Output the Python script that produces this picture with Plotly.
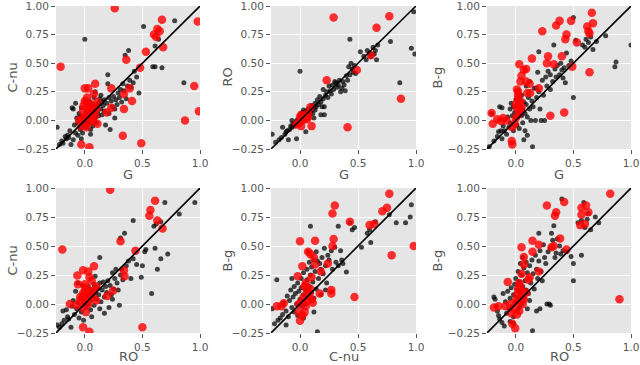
import plotly.graph_objects as go

# (x, y) pairs; black = other points, red = highlighted
p1_black = [
    [-0.24, -0.06], [-0.22, -0.21], [-0.20, -0.18], [-0.19, -0.20], [-0.17, -0.14], [-0.16, -0.16],
    [-0.15, -0.13], [-0.14, -0.15], [-0.12, -0.21], [-0.13, -0.09], [-0.11, 0.11], [-0.10, 0.10],
    [-0.10, -0.17], [-0.09, -0.04], [-0.08, -0.11], [-0.07, 0.02], [-0.06, -0.02], [-0.06, -0.13],
    [-0.05, 0.06], [-0.04, -0.08], [-0.04, 0.03], [-0.03, 0.11], [-0.02, -0.11], [-0.02, -0.04],
    [-0.01, 0.04], [0.00, 0.71], [0.00, -0.01], [0.01, 0.08], [0.01, -0.06], [0.02, 0.02],
    [0.02, 0.13], [0.03, -0.03], [0.03, 0.06], [0.04, 0.17], [0.04, 0.00], [0.05, 0.09],
    [0.05, -0.08], [0.06, 0.04], [0.06, 0.14], [0.07, 0.07], [0.07, -0.05], [0.08, 0.11],
    [0.08, 0.20], [0.09, 0.02], [0.10, 0.12], [0.10, -0.02], [0.11, 0.07], [0.12, 0.15],
    [0.12, 0.04], [0.13, 0.19], [0.14, 0.10], [0.15, 0.05], [0.15, 0.16], [0.16, 0.13],
    [0.17, 0.18], [0.17, 0.08], [0.18, -0.04], [0.19, 0.15], [0.20, 0.40], [0.20, 0.32],
    [0.21, 0.20], [0.21, 0.06], [0.22, -0.08], [0.23, 0.17], [0.24, 0.12], [0.25, 0.21],
    [0.26, 0.02], [0.27, 0.18], [0.28, 0.14], [0.29, 0.24], [0.30, 0.20], [0.31, 0.27],
    [0.32, 0.16], [0.33, 0.32], [0.34, 0.26], [0.35, 0.57], [0.36, 0.19], [0.37, 0.30],
    [0.38, 0.61], [0.39, 0.35], [0.40, 0.29], [0.42, 0.33], [0.43, 0.43], [0.45, 0.38],
    [0.47, 0.24], [0.51, 0.82], [0.59, 0.47], [0.61, 0.47], [0.61, 0.65], [0.64, 0.71],
    [0.67, 0.46], [0.78, 0.87], [0.86, 0.33], [-0.08, 0.15], [0.00, 0.17], [0.09, 0.25],
    [0.26, 0.10], [0.14, 0.22], [-0.03, -0.16], [0.05, -0.12],
]
p1_red = [
    [0.26, 0.98], [0.67, 0.88], [0.98, 0.865], [0.63, 0.80], [0.65, 0.78], [0.60, 0.75],
    [0.62, 0.73], [0.68, 0.64], [0.53, 0.60], [0.36, 0.53], [0.48, 0.46], [-0.21, 0.47],
    [0.09, 0.32], [0.00, 0.28], [0.03, 0.28], [0.08, 0.23], [0.23, 0.28], [0.39, 0.28],
    [0.34, 0.23], [0.41, 0.17], [0.95, 0.30], [0.99, 0.08], [0.87, 0.00], [0.34, 0.10],
    [0.23, 0.11], [0.19, 0.07], [0.33, -0.135], [0.49, -0.20], [-0.03, -0.21], [0.04, -0.235],
    [0.00, 0.17], [0.02, 0.11], [0.04, 0.06], [-0.02, 0.02], [-0.05, 0.00], [0.09, 0.04],
    [0.11, -0.03], [0.015, -0.06], [-0.015, 0.08], [0.06, 0.14], [0.07, -0.005], [0.11, 0.16],
    [0.03, 0.15], [0.01, 0.03], [0.05, 0.10], [-0.01, 0.13], [0.03, -0.02], [0.08, 0.08],
    [0.02, 0.20], [0.06, 0.02], [-0.03, -0.05], [0.10, 0.10],
]

p2_black = [
    [-0.24, -0.12], [-0.21, -0.19], [-0.18, -0.17], [-0.16, -0.15], [-0.15, -0.06], [-0.13, -0.12],
    [-0.12, -0.10], [-0.11, -0.09], [-0.10, -0.17], [-0.09, -0.08], [-0.08, -0.05], [-0.07, -0.06],
    [-0.06, -0.03], [-0.05, -0.05], [-0.04, -0.02], [-0.03, 0.00], [-0.02, -0.03], [-0.01, 0.01],
    [0.00, 0.43], [0.00, 0.02], [0.01, 0.05], [0.01, -0.01], [0.02, 0.03], [0.02, 0.07],
    [0.03, 0.02], [0.03, 0.09], [0.04, 0.05], [0.04, 0.00], [0.05, 0.04], [0.05, 0.08],
    [0.06, 0.06], [0.06, 0.02], [0.07, 0.05], [0.07, 0.10], [0.08, 0.04], [0.08, 0.08],
    [0.09, 0.07], [0.10, 0.13], [0.10, 0.09], [0.11, 0.06], [0.12, 0.11], [0.13, 0.15],
    [0.13, 0.09], [0.14, 0.12], [0.15, 0.18], [0.16, 0.14], [0.17, 0.21], [0.18, 0.16],
    [0.19, 0.12], [0.20, 0.27], [0.20, 0.19], [0.21, 0.05], [0.22, 0.22], [0.23, 0.25],
    [0.24, 0.20], [0.25, 0.30], [0.26, 0.26], [0.27, 0.23], [0.28, 0.31], [0.29, 0.27],
    [0.30, 0.34], [0.31, 0.33], [0.32, 0.29], [0.33, 0.31], [0.34, 0.35], [0.35, 0.25],
    [0.36, 0.28], [0.37, 0.34], [0.38, 0.31], [0.39, 0.26], [0.40, 0.39], [0.41, 0.35],
    [0.42, 0.47], [0.43, 0.71], [0.43, 0.40], [0.44, 0.50], [0.45, 0.45], [0.46, 0.42],
    [0.47, 0.48], [0.48, 0.41], [0.52, 0.60], [0.55, 0.56], [0.57, 0.53], [0.58, 0.61],
    [0.60, 0.59], [0.61, 0.56], [0.63, 0.64], [0.64, 0.58], [0.65, 0.61], [0.66, 0.53],
    [0.67, 0.66], [0.78, 0.69], [0.86, 0.33], [0.96, 0.63], [0.98, 0.95], [0.99, 0.58],
    [0.18, 0.05], [0.05, -0.10], [-0.03, -0.16], [0.21, 0.12], [0.12, 0.02], [-0.07, 0.00],
]
p2_red = [
    [0.29, 0.90], [0.77, 0.91], [0.66, 0.81], [0.61, 0.57], [0.49, 0.44], [0.23, 0.35],
    [0.87, 0.19], [0.41, -0.06], [0.10, -0.05], [0.09, 0.115], [0.01, 0.05], [0.03, 0.01],
    [0.06, 0.01], [-0.01, -0.02], [0.04, 0.04], [0.01, -0.05], [-0.03, -0.035], [0.07, 0.065],
    [0.00, 0.03], [0.05, 0.02], [0.02, 0.00], [0.07, 0.03],
]

p3_black = [
    [-0.23, -0.23], [-0.21, 0.06], [-0.19, -0.18], [-0.16, -0.14], [-0.15, -0.10], [-0.14, 0.12],
    [-0.12, 0.11], [-0.12, -0.16], [-0.11, -0.05], [-0.10, -0.09], [-0.09, 0.01], [-0.08, -0.12],
    [-0.07, 0.03], [-0.06, -0.06], [-0.05, 0.10], [-0.05, -0.02], [-0.04, 0.15], [-0.03, 0.04],
    [-0.02, -0.09], [-0.02, 0.12], [-0.01, 0.07], [0.00, 0.02], [0.00, 0.18], [0.01, -0.04],
    [0.02, 0.09], [0.03, 0.20], [0.03, -0.07], [0.04, 0.13], [0.05, 0.04], [0.05, 0.22],
    [0.06, -0.02], [0.06, 0.10], [0.07, 0.16], [0.08, 0.06], [0.08, -0.09], [0.09, 0.14],
    [0.09, 0.30], [0.10, 0.03], [0.10, -0.13], [0.11, 0.20], [0.12, 0.10], [0.12, 0.34],
    [0.13, 0.00], [0.14, 0.17], [0.145, -0.23], [0.15, 0.12], [0.16, 0.28], [0.17, 0.00],
    [0.18, 0.20], [0.19, 0.42], [0.20, 0.60], [0.20, 0.25], [0.21, 0.10], [0.22, 0.00],
    [0.23, 0.35], [0.24, 0.22], [0.25, 0.00], [0.26, 0.38], [0.27, 0.30], [0.28, 0.43],
    [0.30, 0.27], [0.30, 0.40], [0.32, 0.34], [0.33, 0.66], [0.34, 0.45], [0.35, 0.38],
    [0.36, 0.48], [0.38, 0.40], [0.39, 0.50], [0.40, 0.44], [0.41, 0.37], [0.42, 0.46],
    [0.43, 0.33], [0.44, 0.59], [0.46, 0.48], [0.48, 0.52], [0.50, 0.90], [0.50, 0.20],
    [0.52, 0.70], [0.58, 0.66], [0.60, 0.64], [0.61, 0.71], [0.63, 0.68], [0.65, 0.73],
    [0.67, 0.62], [0.70, 0.69], [0.78, 0.74], [0.86, 0.47], [0.87, 0.51], [1.00, 0.66],
    [-0.13, -0.09], [0.07, -0.17], [0.02, 0.26], [0.18, 0.28],
]
p3_red = [
    [0.66, 0.94], [0.67, 0.85], [0.62, 0.82], [0.63, 0.78], [0.64, 0.76], [0.38, 0.87],
    [0.35, 0.83], [0.48, 0.87], [0.23, 0.78], [0.44, 0.75], [0.43, 0.71], [0.53, 0.68],
    [0.40, 0.56], [0.28, 0.56], [0.14, 0.54], [0.33, 0.49], [0.27, 0.50], [0.49, 0.47],
    [0.03, 0.49], [0.07, 0.44], [0.09, 0.45], [0.05, 0.39], [0.09, 0.34], [0.04, 0.34],
    [0.12, 0.32], [0.20, 0.28], [0.10, 0.24], [0.125, 0.24], [0.64, 0.42], [0.30, 0.04],
    [0.42, 0.07], [-0.21, 0.065], [-0.20, -0.03], [-0.16, 0.01], [-0.13, -0.005], [-0.11, 0.02],
    [-0.08, 0.00], [-0.03, -0.06], [-0.035, -0.18], [-0.03, -0.21], [0.01, 0.27], [0.02, 0.25],
    [0.02, 0.19], [0.03, 0.16], [0.00, 0.14], [0.01, 0.11], [0.04, 0.08], [0.02, 0.05],
    [0.00, 0.02], [0.05, 0.12], [0.02, 0.22], [0.035, 0.10], [-0.01, -0.03], [0.04, 0.17],
]

p4_black = [
    [-0.24, -0.18], [-0.22, -0.20], [-0.20, -0.17], [-0.19, -0.06], [-0.18, -0.14], [-0.16, -0.05],
    [-0.15, -0.11], [-0.14, -0.13], [-0.12, -0.20], [-0.11, -0.02], [-0.10, 0.03], [-0.09, -0.09],
    [-0.08, 0.11], [-0.07, -0.04], [-0.06, 0.01], [-0.05, -0.12], [-0.04, 0.05], [-0.03, -0.07],
    [-0.02, 0.08], [-0.01, 0.00], [-0.01, -0.14], [0.00, 0.04], [0.01, 0.12], [0.01, -0.03],
    [0.02, 0.06], [0.03, 0.00], [0.03, 0.15], [0.04, 0.09], [0.05, -0.05], [0.05, 0.03],
    [0.06, 0.12], [0.07, 0.07], [0.08, -0.01], [0.08, 0.17], [0.09, 0.10], [0.10, 0.04],
    [0.11, 0.14], [0.12, 0.08], [0.13, 0.40], [0.13, 0.18], [0.14, 0.02], [0.15, 0.12],
    [0.16, 0.19], [0.17, 0.06], [0.18, 0.15], [0.19, 0.10], [0.20, 0.20], [0.21, -0.03],
    [0.22, 0.16], [0.23, 0.08], [0.24, 0.27], [0.25, 0.13], [0.26, 0.22], [0.27, 0.30],
    [0.28, 0.18], [0.29, 0.12], [0.30, -0.01], [0.31, 0.57], [0.31, 0.25], [0.32, 0.30],
    [0.33, 0.21], [0.345, 0.61], [0.36, 0.33], [0.38, 0.37], [0.40, 0.22], [0.42, 0.72],
    [0.42, 0.39], [0.45, 0.34], [0.49, 0.23], [0.50, 0.33], [0.52, 0.45], [0.53, 0.47],
    [0.58, 0.09], [0.60, 0.67], [0.61, 0.48], [0.62, 0.69], [0.63, 0.30], [0.66, 0.71],
    [0.66, 0.39], [0.695, 0.875], [0.72, 0.43], [0.82, 0.775], [0.955, 0.875], [0.17, -0.08],
    [0.13, -0.04], [-0.06, 0.18], [0.09, 0.24], [0.06, -0.11], [-0.02, 0.16], [0.24, 0.04],
]
p4_red = [
    [0.22, 0.985], [0.61, 0.89], [0.57, 0.81], [0.56, 0.76], [0.63, 0.72], [0.675, 0.65],
    [0.31, 0.54], [0.44, 0.46], [-0.195, 0.47], [0.08, 0.325], [-0.015, 0.29], [0.03, 0.28],
    [-0.065, 0.245], [0.04, 0.23], [0.34, 0.29], [0.345, 0.24], [-0.06, 0.17], [0.00, 0.17],
    [0.015, 0.14], [0.245, 0.115], [0.195, 0.07], [-0.13, 0.00], [-0.07, -0.01], [-0.04, 0.03],
    [-0.015, 0.09], [0.02, 0.07], [0.05, 0.10], [0.07, 0.06], [0.10, 0.03], [0.03, 0.04],
    [-0.02, -0.03], [0.01, -0.07], [-0.015, -0.20], [0.04, -0.24], [0.50, -0.20], [0.10, 0.15],
    [0.06, 0.20], [0.00, 0.12], [0.03, 0.00], [-0.04, 0.06], [0.08, 0.12], [-0.01, 0.05],
]

p5_black = [
    [-0.24, -0.04], [-0.22, -0.17], [-0.20, 0.21], [-0.19, -0.14], [-0.17, -0.12], [-0.15, -0.09],
    [-0.14, 0.01], [-0.12, -0.06], [-0.11, 0.07], [-0.10, -0.11], [-0.09, 0.03], [-0.08, 0.12],
    [-0.07, -0.03], [-0.06, 0.06], [-0.05, 0.15], [-0.05, -0.07], [-0.04, 0.09], [-0.03, 0.00],
    [-0.02, 0.18], [-0.02, -0.10], [-0.01, 0.11], [0.00, 0.04], [0.01, 0.22], [0.01, 0.14],
    [0.02, -0.02], [0.03, 0.08], [0.03, 0.27], [0.04, 0.17], [0.05, 0.00], [0.05, 0.12],
    [0.06, 0.30], [0.06, 0.21], [0.07, 0.06], [0.08, 0.15], [0.08, 0.36], [0.09, 0.67],
    [0.09, 0.25], [0.10, 0.10], [0.10, 0.32], [0.11, 0.19], [0.12, 0.38], [0.12, -0.07],
    [0.13, 0.28], [0.14, 0.45], [0.14, 0.13], [0.15, 0.37], [0.15, -0.24], [0.16, 0.22],
    [0.17, 0.35], [0.18, 0.30], [0.19, 0.40], [0.20, 0.26], [0.21, 0.48], [0.22, 0.33],
    [0.23, 0.18], [0.24, 0.42], [0.25, 0.38], [0.27, 0.46], [0.28, 0.30], [0.30, 0.49],
    [0.31, 0.36], [0.33, 0.67], [0.33, 0.33], [0.35, 0.46], [0.36, 0.38], [0.37, 0.35],
    [0.40, 0.275], [0.43, 0.70], [0.45, 0.64], [0.47, 0.66], [0.53, 0.49], [0.58, 0.61],
    [0.60, 0.64], [0.61, 0.53], [0.65, 0.71], [0.77, 0.77], [0.83, 0.70], [0.91, 0.70],
    [0.95, 0.75], [0.96, 0.855], [-0.12, -0.18], [0.03, -0.12], [0.18, 0.08], [0.12, 0.05],
    [0.22, 0.12], [-0.07, 0.22], [0.07, 0.45],
]
p5_red = [
    [0.77, 0.95], [0.75, 0.83], [0.71, 0.80], [0.30, 0.85], [0.28, 0.78], [0.43, 0.71],
    [0.64, 0.69], [0.60, 0.68], [0.00, 0.54], [0.13, 0.545], [0.29, 0.56], [0.28, 0.50],
    [0.98, 0.50], [0.79, 0.42], [0.07, 0.45], [0.09, 0.43], [0.12, 0.40], [0.02, 0.325],
    [-0.02, 0.24], [0.13, 0.34], [0.24, 0.35], [0.18, 0.28], [0.10, 0.23], [0.27, 0.12],
    [0.27, 0.09], [0.47, 0.06], [0.17, 0.09], [-0.20, -0.02], [-0.14, 0.006], [-0.16, -0.02],
    [0.00, -0.145], [0.04, -0.07], [0.02, -0.10], [-0.01, -0.07], [0.05, -0.02], [0.07, 0.03],
    [0.03, 0.06], [0.06, 0.12], [0.10, 0.04], [0.11, 0.01], [0.04, 0.15], [0.08, 0.09],
    [0.02, 0.02], [0.05, 0.18], [0.09, 0.13], [-0.01, 0.00],
]

p6_black = [
    [-0.19, 0.06], [-0.18, 0.04], [-0.17, -0.02], [-0.16, -0.06], [-0.15, -0.10], [-0.14, -0.13],
    [-0.12, -0.16], [-0.11, 0.09], [-0.10, -0.19], [-0.09, 0.02], [-0.08, -0.08], [-0.07, 0.11],
    [-0.06, -0.04], [-0.05, 0.05], [-0.05, -0.15], [-0.04, 0.14], [-0.03, -0.02], [-0.02, 0.08],
    [-0.02, -0.11], [-0.01, 0.17], [0.00, 0.02], [0.00, 0.22], [0.01, 0.12], [0.01, -0.06],
    [0.02, 0.28], [0.02, 0.06], [0.03, 0.19], [0.03, -0.03], [0.04, 0.35], [0.04, 0.10],
    [0.05, 0.25], [0.05, 0.00], [0.06, 0.15], [0.06, 0.40], [0.07, 0.31], [0.07, 0.05],
    [0.08, 0.20], [0.09, 0.12], [0.09, 0.36], [0.10, 0.27], [0.10, -0.04], [0.11, 0.09],
    [0.12, 0.33], [0.13, 0.18], [0.14, 0.38], [0.145, -0.23], [0.15, 0.26], [0.16, 0.13],
    [0.17, 0.42], [0.18, 0.30], [0.19, 0.22], [0.20, 0.61], [0.20, 0.37], [0.21, 0.46],
    [0.22, 0.28], [0.24, 0.51], [0.25, 0.40], [0.26, 0.35], [0.27, 0.00], [0.28, 0.45],
    [0.29, 0.00], [0.30, 0.48], [0.30, -0.01], [0.31, 0.61], [0.32, 0.55], [0.33, 0.675],
    [0.34, 0.40], [0.35, 0.44], [0.36, 0.56], [0.38, 0.50], [0.39, 0.43], [0.40, 0.905],
    [0.41, 0.46], [0.44, 0.45], [0.48, 0.41], [0.50, 0.35], [0.50, 0.20], [0.54, 0.70],
    [0.57, 0.42], [0.57, 0.72], [0.59, 0.875], [0.60, 0.66], [0.62, 0.73], [0.63, 0.78],
    [0.65, 0.64], [0.69, 0.75], [0.72, 0.70], [0.21, -0.04], [0.18, -0.06], [-0.02, -0.17],
    [0.12, 0.03], [0.23, 0.20],
]
p6_red = [
    [0.82, 0.95], [0.42, 0.88], [0.27, 0.85], [0.90, 0.04], [0.35, 0.79], [0.34, 0.76],
    [0.57, 0.83], [0.61, 0.85], [0.63, 0.79], [0.57, 0.77], [0.56, 0.68], [0.60, 0.69],
    [0.385, 0.565], [0.33, 0.50], [0.31, 0.49], [0.20, 0.51], [0.44, 0.47], [0.145, 0.545],
    [0.145, 0.45], [0.05, 0.49], [0.07, 0.405], [0.07, 0.34], [0.05, 0.26], [0.20, 0.28],
    [0.12, 0.23], [0.11, 0.21], [-0.07, 0.19], [-0.19, -0.03], [-0.15, -0.02], [-0.09, -0.02],
    [-0.05, 0.00], [-0.02, -0.04], [-0.04, -0.08], [-0.03, -0.17], [-0.005, -0.21], [0.09, 0.10],
    [0.07, 0.04], [0.01, 0.08], [0.02, 0.13], [0.03, 0.18], [0.00, 0.03], [0.04, 0.06],
    [0.02, 0.01], [0.05, 0.11], [0.03, -0.06], [0.01, -0.09], [0.04, 0.15], [0.06, 0.00],
]

panels = [
    (p1_black, p1_red, "G", "C-nu"),
    (p2_black, p2_red, "G", "RO"),
    (p3_black, p3_red, "G", "B-g"),
    (p4_black, p4_red, "RO", "C-nu"),
    (p5_black, p5_red, "C-nu", "B-g"),
    (p6_black, p6_red, "RO", "B-g"),
]

diag = [-0.25, 1.0]
xticks = [0.0, 0.5, 1.0]
xtick_text = ["0.0", "0.5", "1.0"]
yticks = [-0.25, 0.0, 0.25, 0.5, 0.75, 1.0]
ytick_text = ["\u22120.25", "0.00", "0.25", "0.50", "0.75", "1.00"]

W, H = 640, 365
col_px = [(56, 200), (271, 416), (487, 631)]
row_px = [(6, 149), (188, 333)]
xtitle_px = [174, 356]
ytitle_px = [12, 227, 437]

GREY = "#555555"
FONT = "DejaVu Sans, sans-serif"

fig = go.Figure()
annotations = []
for i, (blk, red, xl, yl) in enumerate(panels):
    r, c = divmod(i, 3)
    sfx = "" if i == 0 else str(i + 1)
    xa, ya = "x" + sfx, "y" + sfx

    fig.add_trace(go.Scatter(
        x=[p[0] for p in blk], y=[p[1] for p in blk], xaxis=xa, yaxis=ya,
        mode="markers", marker=dict(color="black", size=5, opacity=0.72, line_width=0),
        showlegend=False, hoverinfo="skip",
    ))
    fig.add_trace(go.Scatter(
        x=[p[0] for p in red], y=[p[1] for p in red], xaxis=xa, yaxis=ya,
        mode="markers", marker=dict(color="#ff0000", size=8.5, opacity=0.8, line_width=0),
        showlegend=False, hoverinfo="skip",
    ))
    fig.add_trace(go.Scatter(
        x=diag, y=diag, xaxis=xa, yaxis=ya, mode="lines",
        line=dict(color="black", width=1.6), showlegend=False, hoverinfo="skip",
    ))

    x0, x1 = col_px[c]
    y0, y1 = row_px[r]
    axis_common = dict(
        range=[-0.25, 1.0], showgrid=True, gridcolor="white", gridwidth=1,
        zeroline=False, showline=False, ticks="outside", ticklen=4, tickwidth=1,
        tickcolor=GREY, tickfont=dict(family=FONT, size=10.5, color=GREY),
        automargin=False, ticklabeloverflow="allow",
    )
    fig.layout["xaxis" + sfx] = dict(
        axis_common, domain=[x0 / W, x1 / W], anchor=ya,
        tickvals=xticks, ticktext=xtick_text,
    )
    fig.layout["yaxis" + sfx] = dict(
        axis_common, domain=[1 - y1 / H, 1 - y0 / H], anchor=xa,
        tickvals=yticks, ticktext=ytick_text,
    )

    annotations.append(dict(
        text=xl, xref="paper", yref="paper", x=(x0 + x1) / 2 / W, y=1 - xtitle_px[r] / H,
        showarrow=False, font=dict(family=FONT, size=13, color=GREY),
        xanchor="center", yanchor="middle",
    ))
    annotations.append(dict(
        text=yl, xref="paper", yref="paper", x=ytitle_px[c] / W, y=1 - (y0 + y1) / 2 / H,
        showarrow=False, textangle=-90, font=dict(family=FONT, size=13, color=GREY),
        xanchor="center", yanchor="middle",
    ))

fig.update_layout(
    width=W, height=H,
    margin=dict(l=0, r=0, t=0, b=0),
    paper_bgcolor="white",
    plot_bgcolor="#e5e5e5",
    annotations=annotations,
)

# drop the browser's default 8px body margin so the figure sits at the page origin
fig.write_html(
    "out.html",
    config={"displayModeBar": False},
    post_script="document.body.style.margin = '0';",
)
